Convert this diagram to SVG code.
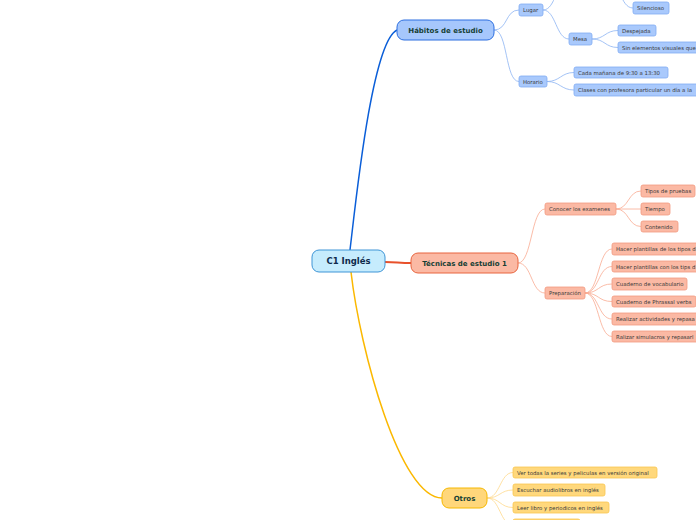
<svg xmlns="http://www.w3.org/2000/svg" width="696" height="520" viewBox="0 0 696 520">
<style>
text{font-family:"DejaVu Sans","Verdana",sans-serif;}
.c{font-size:5.4px;fill:#3a3a3a;}
.m{font-size:7px;font-weight:bold;fill:#163f35;text-anchor:middle;}
.bl{fill:#a9c9fc;stroke:#82acf2;stroke-width:0.8;}
.sa{fill:#fbb9a4;stroke:#f39b80;stroke-width:0.8;}
.ye{fill:#ffd87c;stroke:#f9c650;stroke-width:0.8;}
.lb{fill:none;stroke:#8db4f3;stroke-width:0.8;}
.ls{fill:none;stroke:#f9ab92;stroke-width:0.8;}
.ly{fill:none;stroke:#ffd98c;stroke-width:0.8;}
</style>
<rect width="696" height="520" fill="#ffffff"/>
<g id="connectors">
<path d="M350,250 C356,200 372,42 397,30" fill="none" stroke="#0a5ed8" stroke-width="1.5"/>
<path d="M385,262 C395,262 400,263 411,263" fill="none" stroke="#e8512b" stroke-width="1.8"/>
<path d="M351,272 C360,350 400,498 442,498" fill="none" stroke="#fbb800" stroke-width="1.5"/>
<path class="lb" d="M494,30 C508,30 505,10 519,10"/>
<path class="lb" d="M494,30 C508,30 505,81.5 519,81.5"/>
<path class="lb" d="M543,10 C556,10 556,-20 569,-20"/>
<path class="lb" d="M543,10 C556,10 556,39 569,39"/>
<path class="lb" d="M607,-20 C620,-20 620,8 633,8"/>
<path class="lb" d="M592,39 C605,39 605,30.5 618,30.5"/>
<path class="lb" d="M592,39 C605,39 605,47.5 618,47.5"/>
<path class="lb" d="M547,81.5 C560,81.5 561,72.5 574,72.5"/>
<path class="lb" d="M547,81.5 C560,81.5 561,90 574,90"/>
<path class="ls" d="M518,263 C532,263 531,209 545,209"/>
<path class="ls" d="M518,263 C532,263 531,293 545,293"/>
<path class="ls" d="M616,209 C629,209 628,191 641,191"/>
<path class="ls" d="M616,209 L641,209"/>
<path class="ls" d="M616,209 C629,209 628,226.5 641,226.5"/>
<path class="ls" d="M585,293 C599,293 598,249 612,249"/>
<path class="ls" d="M585,293 C599,293 598,266.5 612,266.5"/>
<path class="ls" d="M585,293 C599,293 598,284 612,284"/>
<path class="ls" d="M585,293 C599,293 598,301.5 612,301.5"/>
<path class="ls" d="M585,293 C599,293 598,319 612,319"/>
<path class="ls" d="M585,293 C599,293 598,336.5 612,336.5"/>
<path class="ly" d="M487,498 C500,498 500,472.5 513,472.5"/>
<path class="ly" d="M487,498 C500,498 500,490 513,490"/>
<path class="ly" d="M487,498 C500,498 500,507.5 513,507.5"/>
<path class="ly" d="M487,498 C500,498 500,525 513,525"/>
</g>
<g id="central"><rect x="312" y="250" width="73" height="22" rx="7" fill="#c6ecfd" stroke="#3f95d6" stroke-width="1"/><text x="348.5" y="264" style="font-size:8.5px;font-weight:bold;fill:#0e2a4c;text-anchor:middle">C1 Inglés</text></g>
<g id="habitos"><rect x="397" y="20" width="97" height="20" rx="7" fill="#a6c7fc" stroke="#2d6fe0" stroke-width="1"/><text class="m" x="445.5" y="32.5">Hábitos de estudio</text></g>
<g id="tecnicas"><rect x="411" y="253" width="107" height="20" rx="7" fill="#fbb9a4" stroke="#e8653f" stroke-width="1"/><text class="m" x="464.5" y="265.5">Técnicas de estudio 1</text></g>
<g id="otros"><rect x="442" y="488" width="45" height="20" rx="7" fill="#ffd77b" stroke="#f6b800" stroke-width="1"/><text class="m" x="464.5" y="500.5">Otros</text></g>
<g id="lugar"><rect class="bl" x="519" y="4" width="24" height="12" rx="2"/><text class="c" x="523" y="12">Lugar</text></g>
<g id="silencioso"><rect class="bl" x="633" y="2" width="36" height="12" rx="2"/><text class="c" x="637" y="10">Silencioso</text></g>
<g id="mesa"><rect class="bl" x="569" y="33" width="23" height="12" rx="2"/><text class="c" x="573" y="41">Mesa</text></g>
<g id="despejada"><rect class="bl" x="618" y="25" width="38" height="11" rx="2"/><text class="c" x="622" y="32.5">Despejada</text></g>
<g id="sinelementos"><rect class="bl" x="618" y="42" width="100" height="11" rx="2"/><text class="c" x="622" y="49.5">Sin elementos visuales que</text></g>
<g id="horario"><rect class="bl" x="519" y="76" width="28" height="11" rx="2"/><text class="c" x="523" y="83.5">Horario</text></g>
<g id="cadamanana"><rect class="bl" x="574" y="67" width="94" height="11" rx="2"/><text class="c" x="578" y="74.5">Cada mañana de 9:30 a 13:30</text></g>
<g id="clases"><rect class="bl" x="574" y="84" width="140" height="12" rx="2"/><text class="c" x="578" y="92">Clases con profesora particular un día a la</text></g>
<g id="conocer"><rect class="sa" x="545" y="203" width="71" height="12" rx="2"/><text class="c" x="549" y="211">Conocer los examenes</text></g>
<g id="tipos"><rect class="sa" x="641" y="185" width="54" height="12" rx="2"/><text class="c" x="645" y="193">Tipos de pruebas</text></g>
<g id="tiempo"><rect class="sa" x="641" y="203" width="29" height="12" rx="2"/><text class="c" x="645" y="211">Tiempo</text></g>
<g id="contenido"><rect class="sa" x="641" y="221" width="37" height="11" rx="2"/><text class="c" x="645" y="228.5">Contenido</text></g>
<g id="preparacion"><rect class="sa" x="545" y="287" width="40" height="12" rx="2"/><text class="c" x="549" y="295">Preparación</text></g>
<g id="plantillas1"><rect class="sa" x="612" y="243" width="110" height="12" rx="2"/><text class="c" x="616" y="251">Hacer plantillas de los tipos d</text></g>
<g id="plantillas2"><rect class="sa" x="612" y="261" width="110" height="11" rx="2"/><text class="c" x="616" y="268.5">Hacer plantillas con los tips d</text></g>
<g id="vocabulario"><rect class="sa" x="612" y="278" width="75" height="12" rx="2"/><text class="c" x="616" y="286">Cuaderno de vocabulario</text></g>
<g id="phrasal"><rect class="sa" x="612" y="296" width="84" height="11" rx="2"/><text class="c" x="616" y="303.5">Cuaderno de Phrassal verbs</text></g>
<g id="actividades"><rect class="sa" x="612" y="313" width="110" height="12" rx="2"/><text class="c" x="616" y="321">Realizar actividades y repasa</text></g>
<g id="simulacros"><rect class="sa" x="612" y="331" width="110" height="11" rx="2"/><text class="c" x="616" y="338.5">Ralizar simulacros y repasarl</text></g>
<g id="series"><rect class="ye" x="513" y="467" width="144" height="11" rx="2"/><text class="c" x="517" y="474.5">Ver todas la series y peliculas en versión original</text></g>
<g id="audiolibros"><rect class="ye" x="513" y="484" width="92" height="12" rx="2"/><text class="c" x="517" y="492">Escuchar audiolibros en inglés</text></g>
<g id="libros"><rect class="ye" x="513" y="502" width="96" height="11" rx="2"/><text class="c" x="517" y="509.5">Leer libro y periodicos en inglés</text></g>
<g id="otro4"><rect class="ye" x="513" y="519" width="67" height="11" rx="2"/></g>
</svg>
